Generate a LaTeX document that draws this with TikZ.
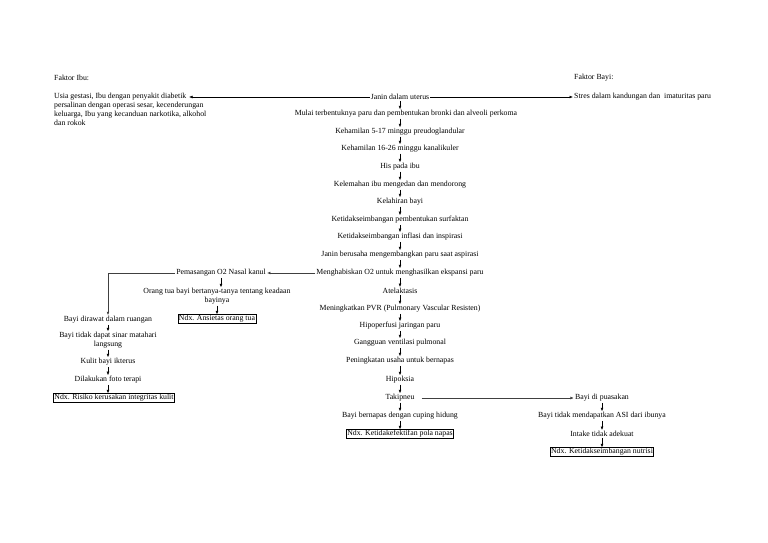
\documentclass[tikz,border=0pt]{standalone}
\usepackage{fontspec}
\setmainfont{Liberation Serif}
\usetikzlibrary{arrows.meta}
\begin{document}
\begin{tikzpicture}[x=1pt,y=-1pt,
  every node/.style={font=\fontsize{7.8}{8.8}\selectfont, inner sep=1pt, align=center},
  ndx/.style={draw, line width=0.6pt, inner sep=0.8pt},
  arr/.style={-{Latex[length=3.5pt,width=2.8pt]}, line width=0.5pt},
  harr/.style={-{Latex[length=3.5pt,width=2.8pt]}, line width=0.9pt, draw=black!75}]
\useasboundingbox (0,0) rectangle (768,543);
\begin{scope}[yshift=-2pt]
% headers
\node[anchor=west] (fibu) at (53,76) {Faktor Ibu:};
\node[anchor=west] (fbayi) at (573,76) {Faktor Bayi:};
\node[anchor=north west, align=left] (usia) at (53,90) {Usia gestasi, Ibu dengan penyakit diabetik\\persalinan dengan operasi sesar, kecenderungan\\keluarga, Ibu yang kecanduan narkotika, alkohol\\dan rokok};
\coordinate (usiaend) at (189,95);
\node[anchor=west] (stres) at (573,95) {Stres dalam kandungan dan\ \ imaturitas paru};
% central column
\node (janin) at (400,95) {Janin dalam uterus};
\node (mulai) at (406,112) {Mulai terbentuknya paru dan pembentukan bronki dan alveoli perkoma};
\node (k517) at (400,130) {Kehamilan 5-17 minggu preudoglandular};
\node (k1626) at (400,147) {Kehamilan 16-26 minggu kanalikuler};
\node (his) at (400,165) {His pada ibu};
\node (lemah) at (400,183) {Kelemahan ibu mengedan dan mendorong};
\node (lahir) at (400,200) {Kelahiran bayi};
\node (surf) at (400,218) {Ketidakseimbangan pembentukan surfaktan};
\node (infl) at (400,235) {Ketidakseimbangan inflasi dan inspirasi};
\node (janinb) at (400,253) {Janin berusaha mengembangkan paru saat aspirasi};
\node (mengh) at (400,271) {Menghabiskan O2 untuk menghasilkan ekspansi paru};
\node (atel) at (400,289) {Atelaktasis};
\node (pvr) at (400,307) {Meningkatkan PVR (Pulmonary Vascular Resisten)};
\node (hipo) at (400,324) {Hipoperfusi jaringan paru};
\node (gang) at (400,341) {Gangguan ventilasi pulmonal};
\node (pening) at (400,359) {Peningkatan usaha untuk bernapas};
\node (hipok) at (400,378) {Hipoksia};
\node (taki) at (400,396) {Takipneu};
\node (cuping) at (400,414) {Bayi bernapas dengan cuping hidung};
\node[ndx] (ndxnap) at (400,432) {Ndx. Ketidakefektifan pola napas};
% left branch
\node (pemas) at (221,271) {Pemasangan O2 Nasal kanul};
\node (ortu) at (217,294.5) {Orang tua bayi bertanya-tanya tentang keadaan\\bayinya};
\node[ndx] (ndxans) at (217,317) {Ndx. Ansietas orang tua};
\node (rawat) at (108,318) {Bayi dirawat dalam ruangan};
\node (sinar) at (108,338.5) {Bayi tidak dapat sinar matahari\\langsung};
\node (kulit) at (108,360) {Kulit bayi ikterus};
\node (foto) at (108,378) {Dilakukan foto terapi};
\node[ndx] (ndxkul) at (114,396) {Ndx. Risiko kerusakan integritas kulit};
% right branch
\node (puasa) at (602,396) {Bayi di puasakan};
\node (asi) at (602,414) {Bayi tidak mendapatkan ASI dari ibunya};
\node (intake) at (602,432) {Intake tidak adekuat};
\node[ndx] (ndxnut) at (602,450) {Ndx. Ketidakseimbangan nutrisi};
% connectors
\draw[arr] (janin.west) -- (usiaend);
\draw[arr] (janin.east) -- (stres.west);
\draw[arr] (janin.south) -- (janin.south |- mulai.north);
\draw[arr] (janin.south |- mulai.south) -- (janin.south |- k517.north);
\foreach \a/\b in {k517/k1626,k1626/his,his/lemah,lemah/lahir,lahir/surf,surf/infl,infl/janinb,janinb/mengh,mengh/atel,atel/pvr,pvr/hipo,hipo/gang,gang/pening,pening/hipok,hipok/taki,taki/cuping,cuping/ndxnap,
  pemas/ortu,ortu/ndxans,rawat/sinar,sinar/kulit,kulit/foto,
  puasa/asi,asi/intake,intake/ndxnut}
  \draw[arr] (\a.south) -- (\a.south |- \b.north);
\draw[arr] (foto.south) -- (foto.south |- ndxkul.north);
\draw[harr] (mengh.west) -- (pemas.east);
\draw[harr] (pemas.west) -| (rawat.north);
\draw[harr] (taki.east) ++(6,0) -- (puasa.west);
\end{scope}
\end{tikzpicture}
\end{document}
